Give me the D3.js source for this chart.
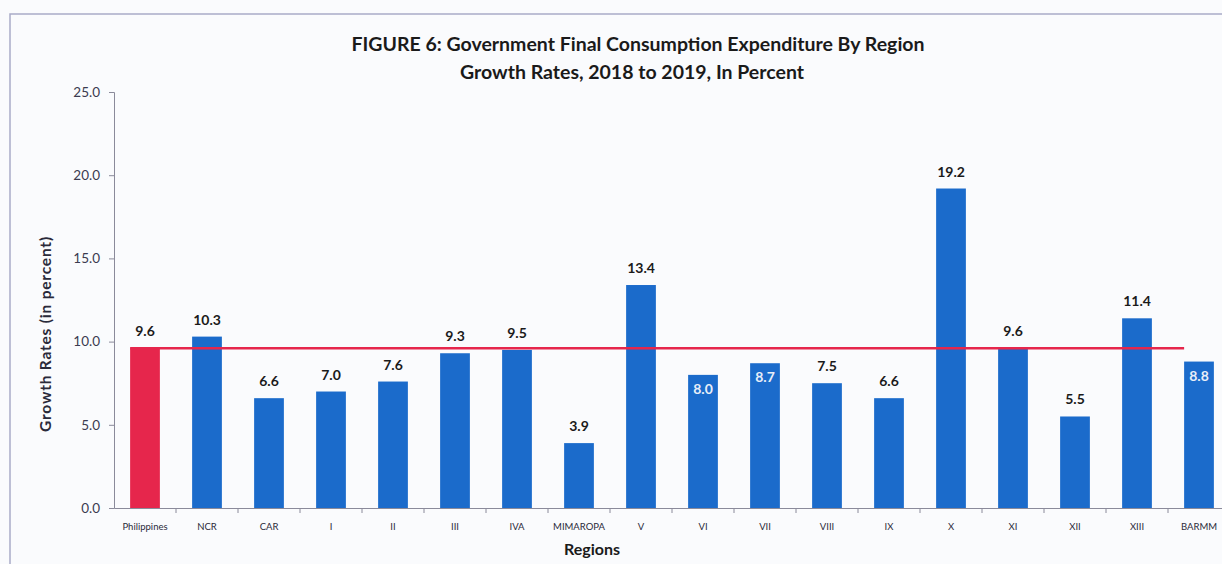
<!DOCTYPE html>
<html>
<head>
<meta charset="utf-8">
<script src="https://cdn.jsdelivr.net/npm/d3@7"></script>
<style>
  body { margin: 0; background: #fafbfd; }
  text { font-family: Lato, "Open Sans", sans-serif; }
</style>
</head>
<body>
<svg id="chart" width="1222" height="564"></svg>
<script>
var regions = ["Philippines", "NCR", "CAR", "I", "II", "III", "IVA", "MIMAROPA", "V", "VI", "VII", "VIII", "IX", "X", "XI", "XII", "XIII", "BARMM"];
var growth = [9.6, 10.3, 6.6, 7.0, 7.6, 9.3, 9.5, 3.9, 13.4, 8.0, 8.7, 7.5, 6.6, 19.2, 9.6, 5.5, 11.4, 8.8];
var insideLabels = ["VI", "VII", "BARMM"];   // labels drawn in white inside the bar
var yTicks = [0, 5, 10, 15, 20, 25];
var nationalRate = 9.6;

var svg = d3.select("#chart");

// frame
svg.append("path")
  .attr("d", "M10,570 L10,14 L1230,14")
  .attr("fill", "none")
  .attr("stroke", "#a9acc8")
  .attr("stroke-width", 1.5);

var plotLeft = 114, plotBottom = 508, plotTop = 92;
var x = d3.scaleBand().domain(regions).range([plotLeft, plotLeft + 62 * regions.length]).paddingInner(0.52).paddingOuter(0.26);
var y = d3.scaleLinear().domain([0, 25]).range([plotBottom, plotTop]);

// title
svg.append("text").attr("x", 638).attr("y", 51).attr("text-anchor", "middle")
  .style("font-size", "19.5px").style("font-weight", "bold").attr("fill", "#1a1a1a")
  .text("FIGURE 6:  Government Final Consumption Expenditure By Region");
svg.append("text").attr("x", 632).attr("y", 79).attr("text-anchor", "middle")
  .style("font-size", "19.5px").style("font-weight", "bold").attr("fill", "#1a1a1a")
  .text("Growth Rates, 2018 to 2019, In Percent");

// y axis
var yAxis = svg.append("g").attr("transform", "translate(" + plotLeft + ",0)")
  .call(d3.axisLeft(y).tickValues(yTicks).tickFormat(d3.format(".1f")).tickSize(5).tickPadding(9));
yAxis.select(".domain").attr("stroke", "#8a8a9a");
yAxis.selectAll(".tick line").attr("stroke", "#8a8a9a");
yAxis.selectAll(".tick text").style("font-size", "13.5px").attr("fill", "#3b3b50").style("font-family", "Lato, sans-serif");

// x axis
var xAxis = svg.append("g").attr("transform", "translate(0," + plotBottom + ")")
  .call(d3.axisBottom(x).tickSize(0).tickPadding(15));
xAxis.select(".domain").attr("stroke", "#8a8a9a");
xAxis.selectAll(".tick text").style("font-size", "9.5px").attr("fill", "#2a2a3a").style("font-family", "Lato, sans-serif");
// ticks between categories
xAxis.selectAll(".sep").data(regions.slice(1)).enter().append("line")
  .attr("class", "sep")
  .attr("x1", function(d) { return x(d) - x.step() * x.paddingInner() / 2; })
  .attr("x2", function(d) { return x(d) - x.step() * x.paddingInner() / 2; })
  .attr("y1", 0).attr("y2", 5)
  .attr("stroke", "#8a8a9a");

// bars
svg.selectAll(".bar").data(regions).enter().append("rect")
  .attr("class", "bar")
  .attr("x", function(d) { return x(d); })
  .attr("width", x.bandwidth())
  .attr("y", function(d, i) { return y(growth[i]); })
  .attr("height", function(d, i) { return plotBottom - y(growth[i]); })
  .attr("fill", function(d, i) { return i === 0 ? "#e6264c" : "#1b6bcb"; });

// national average line
svg.append("line")
  .attr("x1", x(regions[0]))
  .attr("x2", x(regions[regions.length - 1]))
  .attr("y1", y(nationalRate)).attr("y2", y(nationalRate))
  .attr("stroke", "#e6264c").attr("stroke-width", 2.5);

// value labels
svg.selectAll(".val").data(regions).enter().append("text")
  .attr("class", "val")
  .attr("x", function(d) { return x(d) + x.bandwidth() / 2; })
  .attr("y", function(d, i) {
    return insideLabels.indexOf(d) >= 0 ? y(growth[i]) + 19 : y(growth[i]) - 12;
  })
  .attr("text-anchor", "middle")
  .style("font-size", "14px").style("font-weight", "bold")
  .attr("fill", function(d) { return insideLabels.indexOf(d) >= 0 ? "#e8eef8" : "#1a1a1a"; })
  .text(function(d, i) { return growth[i].toFixed(1); });

// axis titles
svg.append("text").attr("x", 592).attr("y", 555).attr("text-anchor", "middle")
  .style("font-size", "16px").style("font-weight", "bold").attr("fill", "#1a1a1a")
  .text("Regions");
svg.append("text").attr("transform", "translate(51,334) rotate(-90)").attr("text-anchor", "middle")
  .style("font-size", "15.5px").style("font-weight", "bold").style("letter-spacing", "0.8px").attr("fill", "#2a2a3a")
  .text("Growth Rates (in percent)");
</script>
</body>
</html>
